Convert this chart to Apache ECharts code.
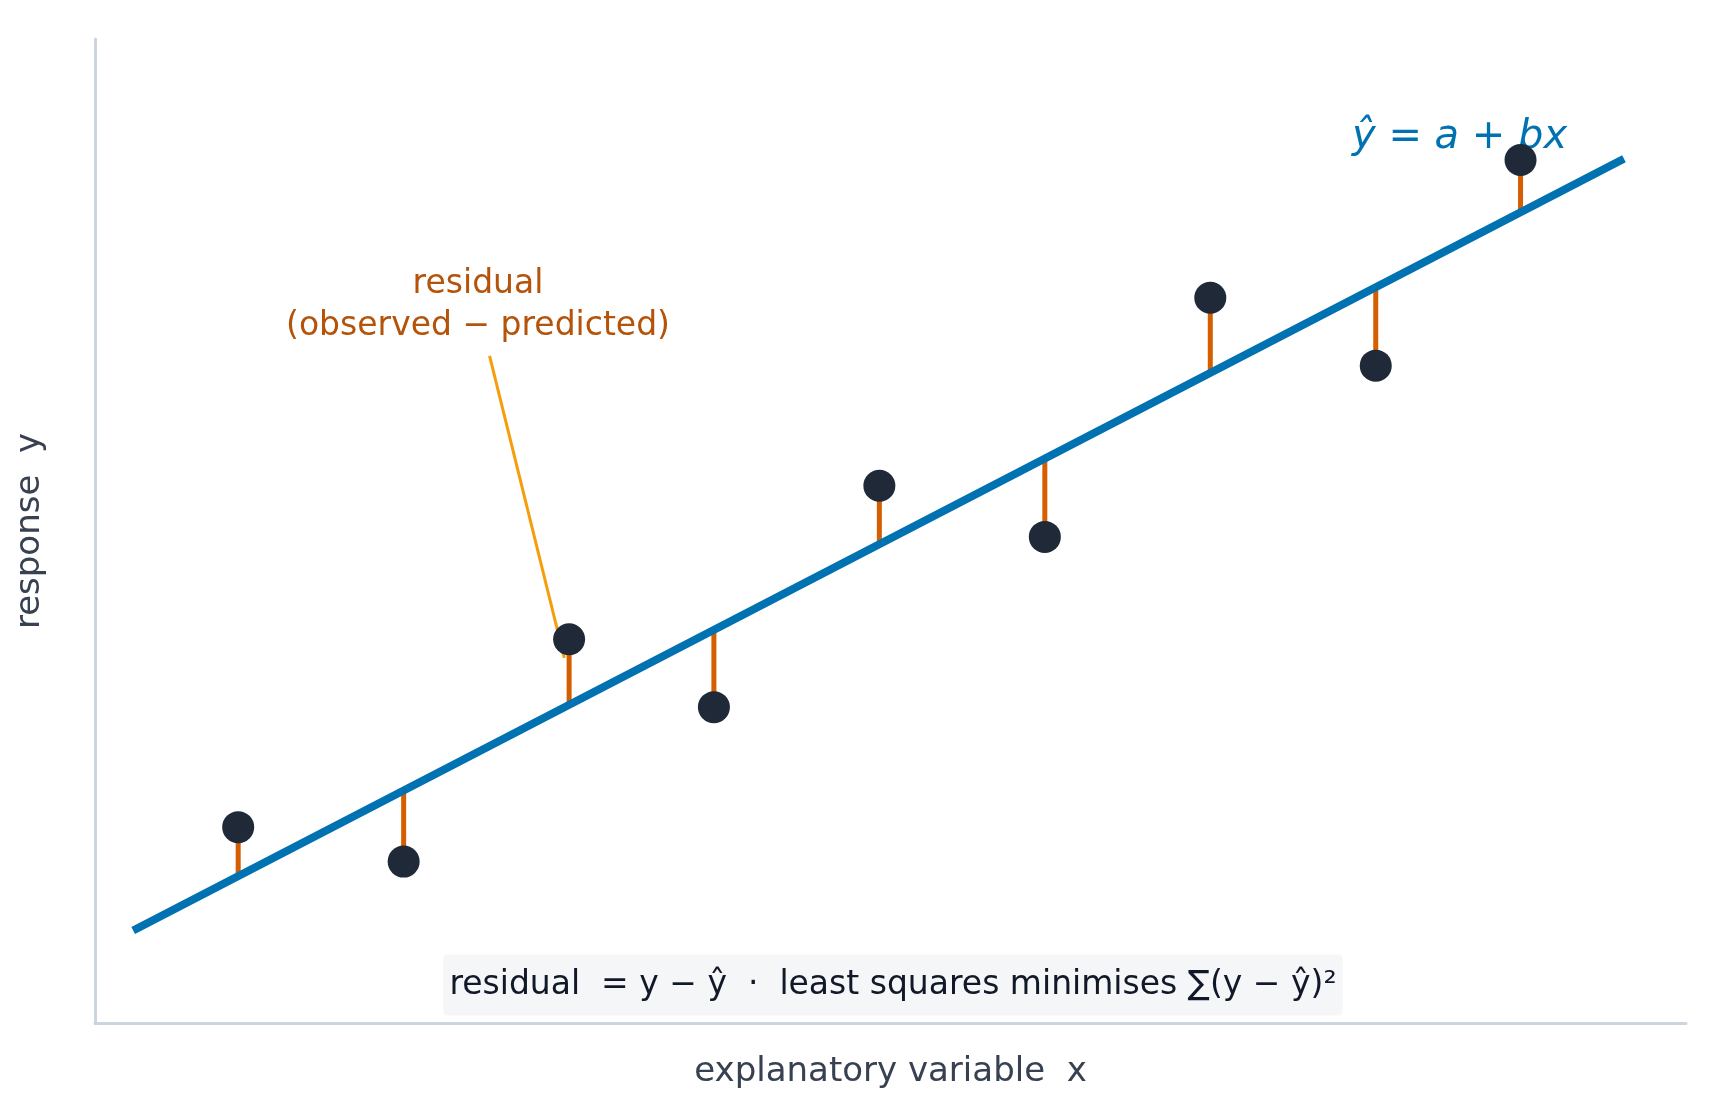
<!DOCTYPE html><html><head><meta charset="utf-8">
<script src="https://cdn.jsdelivr.net/npm/echarts@6/dist/echarts.min.js"></script>
<style>html,body{margin:0;background:#fff}#c{width:1724px;height:1119px}</style></head><body><div id="c"></div><script>
const xObs=[0.90,1.94,2.98,3.89,4.93,5.97,7.01,8.05,8.96];
const yObs=[1.99,1.64,3.90,3.21,5.46,4.94,7.37,6.68,8.77];
const lineX=[0.24,9.61];
const intercept=0.94, slope=0.837; // yhat = intercept + slope*(x-0.24)
const pointerLine=[[2.48,6.78],[2.95,3.71]];
const fit=x=>intercept+slope*(x-0.24);
const series=[];
xObs.forEach((x,i)=>series.push({type:'line',data:[[x,yObs[i]],[x,fit(x)]],symbol:'none',lineStyle:{color:'#d55e00',width:5},z:2,silent:true}));
series.push({type:'line',data:lineX.map(x=>[x,fit(x)]),symbol:'none',lineStyle:{color:'#0072b2',width:8},z:3});
series.push({type:'line',data:pointerLine,symbol:'none',lineStyle:{color:'#f59e0b',width:3},z:1});
series.push({type:'scatter',data:xObs.map((x,i)=>[x,yObs[i]]),symbolSize:32,itemStyle:{color:'#1f2937',opacity:1},z:5});
const chart=echarts.init(document.getElementById('c'));
chart.setOption({animation:false,
grid:{left:95,right:38,top:39,bottom:96},
xAxis:{type:'value',min:0,max:10,axisLine:{lineStyle:{color:'#cbd5e1',width:3}},axisTick:{show:false},axisLabel:{show:false},splitLine:{show:false},
 name:'explanatory variable  x',nameLocation:'middle',nameGap:32,nameTextStyle:{fontSize:34,color:'#374151',fontFamily:'DejaVu Sans'}},
yAxis:{type:'value',min:0,max:10,axisLine:{show:true,lineStyle:{color:'#cbd5e1',width:3}},axisTick:{show:false},axisLabel:{show:false},splitLine:{show:false},
 name:'response  y',nameLocation:'middle',nameGap:48,nameTextStyle:{fontSize:34,color:'#374151',fontFamily:'DejaVu Sans'}},
series:series,
graphic:[
 {type:'text',left:1352,top:118,style:{text:'ŷ = a + bx',fontSize:40,fontStyle:'italic',fill:'#0072b2',fontFamily:'DejaVu Sans'}},
 {type:'text',x:478,y:305,style:{text:'residual\n(observed − predicted)',fontSize:33,lineHeight:42,fill:'#b45309',align:'center',verticalAlign:'middle',fontFamily:'DejaVu Sans'}},
 {type:'text',x:893,y:985,style:{text:'residual  = y − ŷ  ·  least squares minimises ∑(y − ŷ)²',fontSize:33,fill:'#111827',align:'center',verticalAlign:'middle',fontFamily:'DejaVu Sans',backgroundColor:'#f4f6f8',padding:[14,6],borderRadius:4}}
]});
</script></body></html>
